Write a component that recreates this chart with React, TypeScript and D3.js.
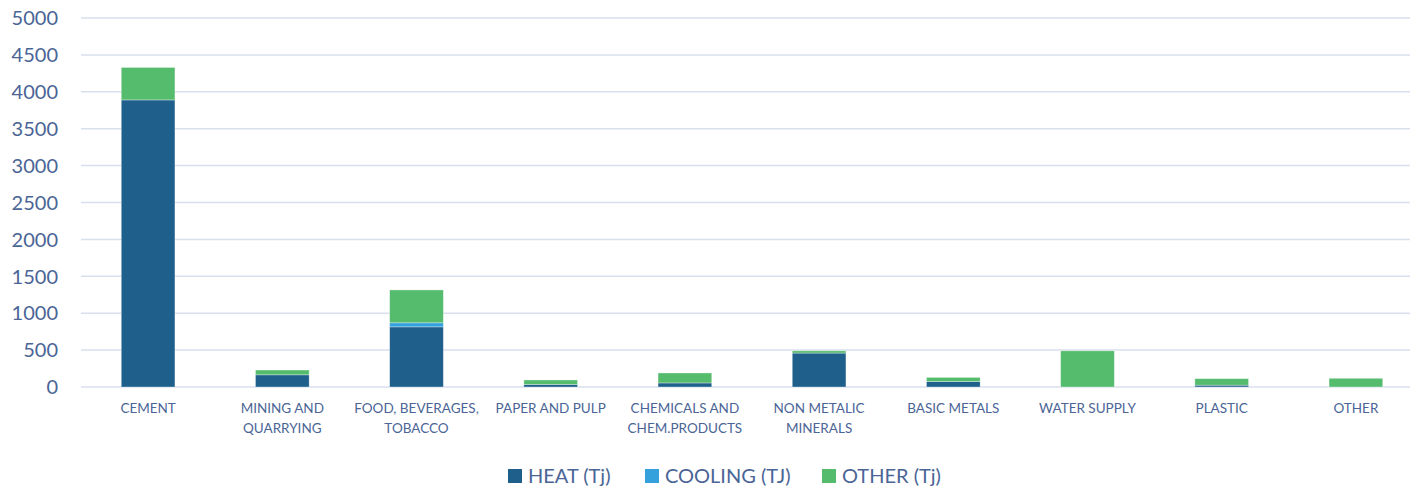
import React from "react";
import * as d3 from "d3";

const categories = [
  ["CEMENT"],
  ["MINING AND", "QUARRYING"],
  ["FOOD, BEVERAGES,", "TOBACCO"],
  ["PAPER AND PULP"],
  ["CHEMICALS AND", "CHEM.PRODUCTS"],
  ["NON METALIC", "MINERALS"],
  ["BASIC METALS"],
  ["WATER SUPPLY"],
  ["PLASTIC"],
  ["OTHER"],
];
const heat = [3890, 165, 815, 35, 55, 460, 75, 0, 25, 0];
const cooling = [0, 0, 55, 0, 0, 0, 0, 0, 0, 0];
const other = [440, 65, 445, 60, 135, 30, 55, 490, 88, 118];
const seriesNames = ["HEAT (Tj)", "COOLING (TJ)", "OTHER (Tj)"];
const yTicks = [0, 500, 1000, 1500, 2000, 2500, 3000, 3500, 4000, 4500, 5000];

const colors = ["#1F5F8B", "#34A0DC", "#55BB6D"];
const textColor = "#4A6596";
const font = "Lato, 'Open Sans', sans-serif";

export default function App() {
  const W = 1410, H = 487;
  const left = 81, right = 1423, top = 18, bottom = 387;
  const keys = categories.map((_, i) => String(i));
  const x = d3.scaleBand().domain(keys).range([left, right]).padding(0);
  const y = d3.scaleLinear().domain([0, 5000]).range([bottom, top]);
  const data = categories.map((_, i) => ({ key: String(i), s0: heat[i], s1: cooling[i], s2: other[i] }));
  const stack = d3.stack<any>().keys(["s0", "s1", "s2"]);
  const series = stack(data);
  const bw = x.bandwidth() * 0.4;

  const legendItems = [
    { x: 508, tx: 528 },
    { x: 645, tx: 665 },
    { x: 822, tx: 842 },
  ];

  return (
    <svg width={W} height={H} style={{ position: "absolute", left: 0, top: 0, background: "#fff" }}>
      {yTicks.map((t) => (
        <g key={t}>
          <line x1={left} x2={right} y1={y(t)} y2={y(t)} stroke="#D9DFEC" strokeWidth={1.5} />
          <text x={58} y={y(t)} dy="0.36em" textAnchor="end" fontFamily={font} fontSize={20} fill={textColor}>
            {t}
          </text>
        </g>
      ))}
      {series.map((s, si) => (
        <g key={si} fill={colors[si]}>
          {s.map((d, i) => {
            const h = y(d[0]) - y(d[1]);
            if (h <= 0) return null;
            const cx = (x(keys[i]) as number) + x.bandwidth() / 2;
            return (
              <rect key={i} x={cx - bw / 2} y={y(d[1])} width={bw} height={h} stroke="#ffffff" strokeOpacity={0.45} strokeWidth={0.75} />
            );
          })}
        </g>
      ))}
      {categories.map((lines, i) => {
        const cx = (x(keys[i]) as number) + x.bandwidth() / 2;
        return (
          <text key={i} x={cx} textAnchor="middle" fontFamily={font} fontSize={13.5} fill={textColor}>
            {lines.map((l, j) => (
              <tspan key={j} x={cx} y={408 + j * 20} dy="0.36em">
                {l}
              </tspan>
            ))}
          </text>
        );
      })}
      {seriesNames.map((n, i) => (
        <g key={n}>
          <rect x={legendItems[i].x} y={469} width={14} height={14} fill={colors[i]} />
          <text x={legendItems[i].tx} y={476} dy="0.36em" fontFamily={font} fontSize={20} fill={textColor}>
            {n}
          </text>
        </g>
      ))}
    </svg>
  );
}
